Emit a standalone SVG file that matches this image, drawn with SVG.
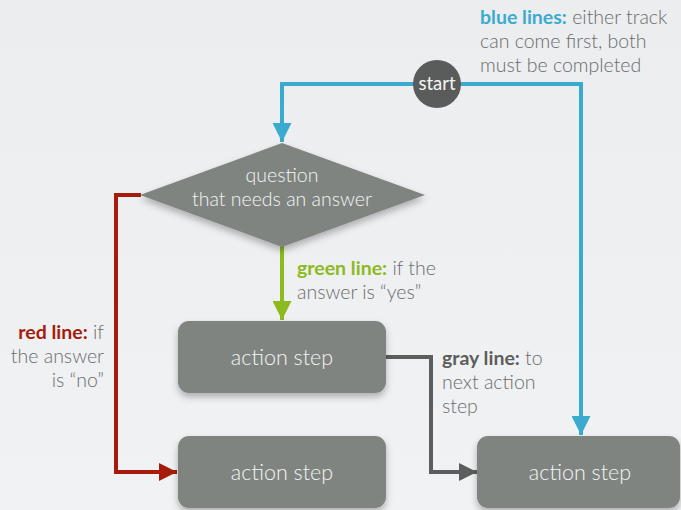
<svg xmlns="http://www.w3.org/2000/svg" width="681" height="510" viewBox="0 0 681 510">
  <defs>
    <style>
      .shape { fill: #7f8481; filter: url(#shadow); }
      .node-text { font-family: Lato, "Open Sans", sans-serif; font-weight: 300; font-size: 21.5px; fill: #f4f5f4; text-anchor: middle; }
      .note { font-family: Lato, "Open Sans", sans-serif; font-weight: 300; font-size: 19.5px; fill: #6a6c6b; }
      .key { font-weight: 700; }
      .wire { fill: none; stroke-width: 4; stroke-linejoin: miter; }
      .blue { stroke: #3aabcf; }
      .red { stroke: #a51c0c; }
      .green { stroke: #8dba1c; }
      .gray { stroke: #5c5e5d; }
    </style>
    <filter id="shadow" x="-20%" y="-20%" width="140%" height="150%">
      <feDropShadow dx="0" dy="4" stdDeviation="3.5" flood-color="#000" flood-opacity="0.28"/>
    </filter>
    <marker id="arrow-blue" viewBox="0 0 10 10" refX="10" refY="5" markerUnits="userSpaceOnUse" markerWidth="19" markerHeight="19" orient="auto">
      <path d="M0,0 L10,5 L0,10 Z" fill="#3aabcf"/>
    </marker>
    <marker id="arrow-red" viewBox="0 0 10 10" refX="10" refY="5" markerUnits="userSpaceOnUse" markerWidth="18" markerHeight="18" orient="auto">
      <path d="M0,0 L10,5 L0,10 Z" fill="#a51c0c"/>
    </marker>
    <marker id="arrow-green" viewBox="0 0 10 10" refX="10" refY="5" markerUnits="userSpaceOnUse" markerWidth="19" markerHeight="19" orient="auto">
      <path d="M0,0 L10,5 L0,10 Z" fill="#8dba1c"/>
    </marker>
    <marker id="arrow-gray" viewBox="0 0 10 10" refX="10" refY="5" markerUnits="userSpaceOnUse" markerWidth="18" markerHeight="18" orient="auto">
      <path d="M0,0 L10,5 L0,10 Z" fill="#5c5e5d"/>
    </marker>
    <linearGradient id="bg" x1="0" y1="0" x2="0" y2="1">
      <stop offset="0" stop-color="#ebedef"/>
      <stop offset="1" stop-color="#f1f2f4"/>
    </linearGradient>
  </defs>

  <rect width="681" height="510" fill="url(#bg)"/>

  <!-- connectors -->
  <g id="connectors">
    <polyline class="wire blue" points="437,84 282,84 282,142" marker-end="url(#arrow-blue)"/>
    <polyline class="wire blue" points="437,84 581,84 581,435" marker-end="url(#arrow-blue)"/>
    <line class="wire green" x1="282" y1="245" x2="282" y2="320" marker-end="url(#arrow-green)"/>
    <polyline class="wire red" points="141,195 116,195 116,472 177,472" marker-end="url(#arrow-red)"/>
    <polyline class="wire gray" points="384,357 431,357 431,472 477,472" marker-end="url(#arrow-gray)"/>
  </g>

  <!-- nodes -->
  <g id="start">
    <circle cx="437" cy="84" r="24" fill="#5a5c5b"/>
    <text class="node-text" x="437" y="90" style="font-size:18.5px;font-weight:400">start</text>
  </g>

  <g id="question">
    <polygon class="shape" points="282,143 425,195 282,247 140,195"/>
    <text class="node-text" x="282" y="182" style="font-size:19.5px">question</text>
    <text class="node-text" x="282" y="206" style="font-size:19.5px">that needs an answer</text>
  </g>

  <g id="action-yes">
    <rect class="shape" x="178" y="321" width="208" height="72" rx="11"/>
    <text class="node-text" x="282" y="365">action step</text>
  </g>

  <g id="action-no">
    <rect class="shape" x="178" y="436" width="208" height="72" rx="11"/>
    <text class="node-text" x="282" y="480">action step</text>
  </g>

  <g id="action-next">
    <rect class="shape" x="477" y="436" width="203" height="72" rx="11"/>
    <text class="node-text" x="580" y="480">action step</text>
  </g>

  <!-- legend notes -->
  <g id="notes">
    <text class="note" x="480" y="24"><tspan class="key" fill="#3aabcf">blue lines:</tspan> either track</text>
    <text class="note" x="480" y="48">can come first, both</text>
    <text class="note" x="480" y="72">must be completed</text>

    <text class="note" x="297" y="275"><tspan class="key" fill="#8dba1c">green line:</tspan> if the</text>
    <text class="note" x="297" y="299">answer is “yes”</text>

    <text class="note" x="104" y="339" text-anchor="end"><tspan class="key" fill="#a51c0c">red line:</tspan> if</text>
    <text class="note" x="104" y="363" text-anchor="end">the answer</text>
    <text class="note" x="104" y="387" text-anchor="end">is “no”</text>

    <text class="note" x="442" y="365"><tspan class="key" fill="#5c5e5d">gray line:</tspan> to</text>
    <text class="note" x="442" y="389">next action</text>
    <text class="note" x="442" y="413">step</text>
  </g>
</svg>
